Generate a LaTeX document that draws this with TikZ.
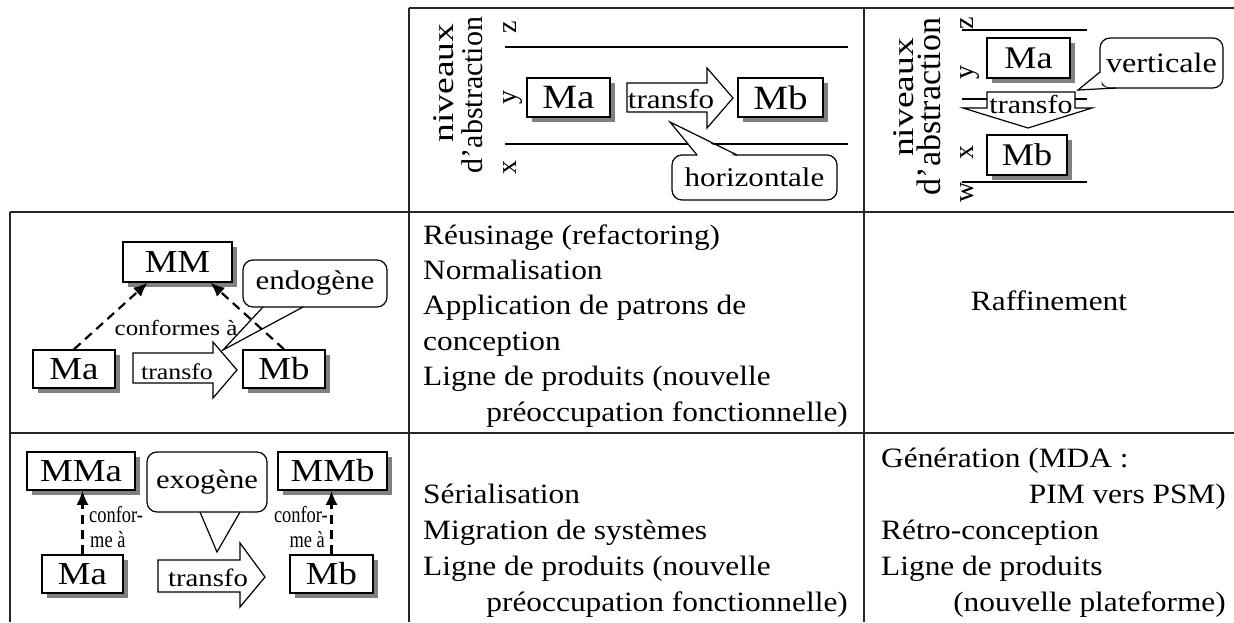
\documentclass[tikz,border=0pt]{standalone}
\usepackage{fontspec}
\setmainfont{Liberation Serif}
\newfontfamily\wfont{Liberation Serif}[FakeStretch=1.15]
\newfontfamily\bfont{Liberation Serif}[FakeStretch=1.12]
\newfontfamily\nfont{Liberation Serif}[FakeStretch=0.8]
\newfontfamily\sfont{Liberation Serif}[FakeStretch=1.25]
\usetikzlibrary{shadows,arrows.meta,calc}
\newcommand\fsz[1]{\fontsize{#1}{#1}\selectfont}
\tikzset{
 gridline/.style={line width=1.6pt, black!85},
 mbox/.style={draw, fill=white, line width=1.5pt, inner sep=0pt,
   general shadow={fill=black!50, shadow xshift=4.5pt, shadow yshift=-4.5pt}},
 bubble/.style={draw, fill=white, line width=1.2pt, rounded corners=10pt, inner sep=0pt},
 blockarrow/.style={draw, fill=white, line width=1.2pt, line join=miter},
 conf/.style={dash pattern=on 9pt off 6pt, line width=2.2pt, -{Latex[length=14pt,width=12pt]}},
 lev/.style={line width=1.2pt},
 tailline/.style={line width=1.2pt},
 txt/.style={inner sep=0pt, font=\bfont\fsz{28}},
 rot/.style={rotate=90, inner sep=0pt},
}
\begin{document}
\begin{tikzpicture}[x=1pt,y=-1pt]
\useasboundingbox (0,0) rectangle (1234,622);
% ---------- table grid ----------
\draw[gridline] (409,8) -- (1234,8);
\draw[gridline] (409,8) -- (409,622);
\draw[gridline] (864,8) -- (864,622);
\draw[gridline] (10,212) -- (1234,212);
\draw[gridline] (10,212) -- (10,622);
\draw[gridline] (10,433) -- (1234,433);

% ---------- top middle: horizontale ----------
\node[rot, anchor=base, font=\sfont\fsz{30}] (niv1a) at (453,83) {niveaux};
\node[rot, anchor=base, font=\fsz{30}] (niv1b) at (482,95) {d'abstraction};
\node[rot, anchor=base, font=\fsz{28}] (lz1) at (516,27) {z};
\node[rot, anchor=base, font=\fsz{28}] (ly1) at (516,97) {y};
\node[rot, anchor=base, font=\fsz{28}] (lx1) at (516,167) {x};
\draw[lev] (505,47) -- (848,47);
\draw[lev] (505,144) -- (848,144);
\node[mbox, minimum width=83pt, minimum height=39pt, font=\wfont\fsz{34}] (ma0) at (568.5,97.5) {Ma};
\node[mbox, minimum width=85pt, minimum height=39pt, font=\wfont\fsz{34}] (mb0) at (780.5,97.5) {Mb};
\draw[blockarrow] (627,83) -- (707,83) -- (707,68) -- (733,98) -- (707,128) -- (707,112) -- (627,112) -- cycle;
\node[inner sep=0pt, anchor=base, font=\wfont\fsz{27}] (tr0) at (671,108) {transfo};
\node[bubble, minimum width=165pt, minimum height=45pt, font=\wfont\fsz{27}] (hz) at (754.5,177.5) {horizontale};
\fill[white] (698.5,156.5) -- (670,122) -- (735.5,156.5) -- cycle;
\draw[tailline] (697,155) -- (670,122) -- (737,155);

% ---------- top right: verticale ----------
\node[rot, anchor=base, font=\sfont\fsz{30}] (niv2a) at (913,97.5) {niveaux};
\node[rot, anchor=base, font=\fsz{34}] (niv2b) at (940,106.5) {d'abstraction};
\node[rot, anchor=base, font=\fsz{28}] (lz2) at (973,23) {z};
\node[rot, anchor=base, font=\fsz{28}] (ly2) at (973,72) {y};
\node[rot, anchor=base, font=\fsz{28}] (lx2) at (973,152) {x};
\node[rot, anchor=base, font=\fsz{28}] (lw2) at (973,192) {w};
\draw[lev] (962,30) -- (1087,30);
\draw[lev] (962,99) -- (1087,99);
\draw[lev] (962,182) -- (1087,182);
\node[mbox, minimum width=83pt, minimum height=40pt, font=\wfont\fsz{31.5}] (ma3) at (1028.5,58) {Ma};
\node[mbox, minimum width=80pt, minimum height=40pt, font=\wfont\fsz{31.5}] (mb3) at (1027,155) {Mb};
\draw[blockarrow] (987,108) -- (987,92) -- (1075,92) -- (1075,108) -- (1092,108) -- (1028,128) -- (963,108) -- cycle;
\node[inner sep=0pt, anchor=base, font=\wfont\fsz{26}] (tr3) at (1031,113) {transfo};
\node[bubble, minimum width=123pt, minimum height=50pt, font=\wfont\fsz{28}] (vt) at (1161.5,63) {verticale};
\fill[white] (1101.5,72) -- (1078,90) -- (1116,86.5) -- (1101.5,86.5) -- cycle;
\draw[tailline] (1100,72) -- (1078,90) -- (1116,88);

% ---------- row 1 left: endogene ----------
\node[mbox, minimum width=109pt, minimum height=40pt, font=\wfont\fsz{32}] (mm1) at (177.5,262) {MM};
\node[mbox, minimum width=82pt, minimum height=38pt, font=\wfont\fsz{32}] (ma1) at (74,369) {Ma};
\node[mbox, minimum width=82pt, minimum height=38pt, font=\wfont\fsz{32}] (mb1) at (284,369) {Mb};
\draw[blockarrow] (133,353) -- (213,353) -- (213,342) -- (237,370) -- (213,398) -- (213,383) -- (133,383) -- cycle;
\node[inner sep=0pt, anchor=base, font=\wfont\fsz{22.5}] (tr1) at (177,379) {transfo};
\node[bubble, minimum width=144pt, minimum height=47pt, font=\wfont\fsz{27}] (endo) at (315,283.5) {endogène};
\fill[white] (264.5,308.5) -- (223,350) -- (301.5,308.5) -- cycle;
\draw[tailline] (263,307) -- (223,350) -- (303,307);
\node[inner sep=0pt, anchor=base, font=\wfont\fsz{21.7}] (cf1) at (176,335) {conformes à};
\draw[conf] (ma1.north) -- ([xshift=-30pt]mm1.south);
\draw[conf] (mb1.north) -- ([xshift=33pt]mm1.south);

% ---------- row 2 left: exogene ----------
\node[mbox, minimum width=108pt, minimum height=38pt, font=\wfont\fsz{32}] (mma) at (81,471) {MMa};
\node[mbox, minimum width=109pt, minimum height=38pt, font=\wfont\fsz{32}] (mmb) at (332.5,471) {MMb};
\node[mbox, minimum width=81pt, minimum height=38pt, font=\wfont\fsz{32}] (ma2) at (82.5,574) {Ma};
\node[mbox, minimum width=83pt, minimum height=38pt, font=\wfont\fsz{32}] (mb2) at (331.5,574) {Mb};
\draw[blockarrow] (158,560) -- (240,560) -- (240,543) -- (265,577) -- (240,607) -- (240,592) -- (158,592) -- cycle;
\node[inner sep=0pt, anchor=base, font=\wfont\fsz{25}] (tr2) at (208,586) {transfo};
\node[bubble, minimum width=120pt, minimum height=60pt, font=\wfont\fsz{26.6}] (exo) at (207,482) {exogène};
\fill[white] (201.5,513.5) -- (217,552) -- (238.5,513.5) -- cycle;
\draw[tailline] (200,512) -- (217,552) -- (240,512);
\draw[conf] (ma2.north) -- (ma2.north |- mma.south);
\draw[conf] (mb2.north) -- (mb2.north |- mmb.south);
\node[inner sep=0pt, anchor=base west, font=\nfont\fsz{23}] (cfa1) at (89,522) {confor-};
\node[inner sep=0pt, anchor=base west, font=\nfont\fsz{23}] (cfa2) at (90,547) {me à};
\node[inner sep=0pt, anchor=base east, font=\nfont\fsz{23}] (cfb1) at (328,522) {confor-};
\node[inner sep=0pt, anchor=base east, font=\nfont\fsz{23}] (cfb2) at (325,547) {me à};

% ---------- row 1 texts ----------
\node[txt, anchor=base west] (r1a) at (423,244) {Réusinage (refactoring)};
\node[txt, anchor=base west] (r1b) at (423,279.4) {Normalisation};
\node[txt, anchor=base west] (r1c) at (423,314.8) {Application de patrons de};
\node[txt, anchor=base west] (r1d) at (423,350.2) {conception};
\node[txt, anchor=base west] (r1e) at (423,385.6) {Ligne de produits (nouvelle};
\node[txt, anchor=base east] (r1f) at (848,421) {préoccupation fonctionnelle)};
\node[txt, anchor=base] (raf) at (1049,310) {Raffinement};

% ---------- row 2 texts ----------
\node[txt, anchor=base west] (r2a) at (423,503) {Sérialisation};
\node[txt, anchor=base west] (r2b) at (423,539) {Migration de systèmes};
\node[txt, anchor=base west] (r2c) at (423,575) {Ligne de produits (nouvelle};
\node[txt, anchor=base east] (r2d) at (848,611) {préoccupation fonctionnelle)};
\node[txt, anchor=base west] (g1) at (881,467) {Génération (MDA :};
\node[txt, anchor=base east] (g2) at (1226,503) {PIM vers PSM)};
\node[txt, anchor=base west] (g3) at (881,539) {Rétro-conception};
\node[txt, anchor=base west] (g4) at (881,575) {Ligne de produits};
\node[txt, anchor=base east] (g5) at (1226,611) {(nouvelle plateforme)};
\end{tikzpicture}
\end{document}
